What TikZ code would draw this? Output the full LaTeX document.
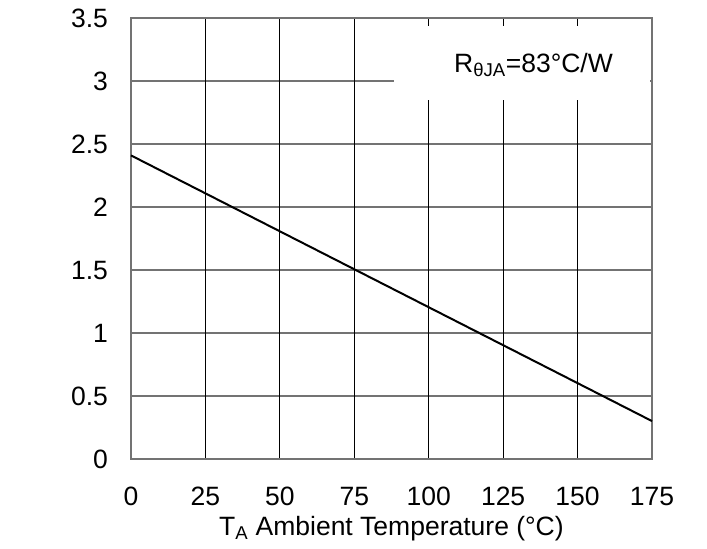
\documentclass[tikz,border=0pt]{standalone}
\usepackage{fontspec}
\setmainfont{Liberation Sans}
\begin{document}
\begin{tikzpicture}[x=2.977pt, y=126pt,
	vgrid/.style={black, line width=1pt},
	hgrid/.style={black!55, line width=1.2pt},
	frame/.style={black!55, line width=2pt},
	derate/.style={black, line width=2pt},
	lbl/.style={font=\fontsize{26.5}{31}\selectfont, inner sep=0pt}]
	\useasboundingbox (-44,-.7063) rectangle (193.48,3.643);
	% grid
	\draw[hgrid] (0,.5)   -- (175,.5);
	\draw[hgrid] (0,1)    -- (175,1);
	\draw[hgrid] (0,1.5)  -- (175,1.5);
	\draw[hgrid] (0,2)    -- (175,2);
	\draw[hgrid] (0,2.5)  -- (175,2.5);
	\draw[hgrid] (0,3)    -- (175,3);
	\draw[vgrid] (25,0)   -- (25,3.5);
	\draw[vgrid] (50,0)   -- (50,3.5);
	\draw[vgrid] (75,0)   -- (75,3.5);
	\draw[vgrid] (100,0)  -- (100,3.5);
	\draw[vgrid] (125,0)  -- (125,3.5);
	\draw[vgrid] (150,0)  -- (150,3.5);
	% label box
	\fill[white] (88.5,2.85) rectangle (174.5,3.44);
	\node[lbl, anchor=base west] (rja) at (108.5,3.071) {R\textsubscript{θJA}=83°C/W};
	% frame and curve
	\draw[frame] (0,0) rectangle (175,3.5);
	\draw[derate] (0,2.4096) -- (175,.3012);
	% y axis
	\node[lbl, anchor=east] (y0)  at (-7.7,0)   {0};
	\node[lbl, anchor=east] (y1)  at (-7.7,.5)  {0.5};
	\node[lbl, anchor=east] (y2)  at (-7.7,1)   {1};
	\node[lbl, anchor=east] (y3)  at (-7.7,1.5) {1.5};
	\node[lbl, anchor=east] (y4)  at (-7.7,2)   {2};
	\node[lbl, anchor=east] (y5)  at (-7.7,2.5) {2.5};
	\node[lbl, anchor=east] (y6)  at (-7.7,3)   {3};
	\node[lbl, anchor=east] (y7)  at (-7.7,3.5) {3.5};
	% x axis
	\node[lbl] (x0) at (0,-.30)   {0};
	\node[lbl] (x1) at (25,-.30)  {25};
	\node[lbl] (x2) at (50,-.30)  {50};
	\node[lbl] (x3) at (75,-.30)  {75};
	\node[lbl] (x4) at (100,-.30) {100};
	\node[lbl] (x5) at (125,-.30) {125};
	\node[lbl] (x6) at (150,-.30) {150};
	\node[lbl] (x7) at (175,-.30) {175};
	\node[lbl] (xtitle) at (87.5,-.55) {T\textsubscript{A} Ambient Temperature (°C)};
\end{tikzpicture}
\end{document}
